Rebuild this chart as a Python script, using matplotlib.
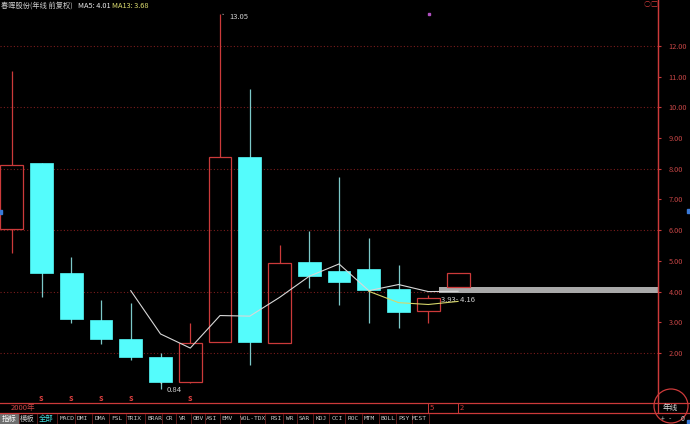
import numpy as np
import matplotlib
matplotlib.use("Agg")
import matplotlib.pyplot as plt
import matplotlib.transforms as mtransforms
from matplotlib.patches import Rectangle, Circle

plt.rcParams['font.family'] = ['Noto Sans CJK SC', 'DejaVu Sans']

# -------------------------------
# Data: yearly candles (前复权)
# -------------------------------
opens  = [6.04, 8.19, 4.61, 3.07, 2.46, 1.87, 1.05, 2.36, 8.38, 2.33, 4.96, 4.67, 4.73, 4.08, 3.37, 4.15]
closes = [8.12, 4.61, 3.11, 2.46, 1.87, 1.06, 2.33, 8.38, 2.36, 4.93, 4.51, 4.31, 4.05, 3.35, 3.78, 4.61]
highs  = [11.19, 8.19, 5.13, 3.73, 3.63, 2.00, 2.98, 13.05, 10.60, 5.52, 5.97, 7.73, 5.75, 4.87, 3.89, 4.61]
lows   = [5.26, 3.82, 2.98, 2.29, 1.77, 0.84, 1.02, 2.36, 1.61, 2.33, 4.12, 3.56, 2.98, 2.81, 2.98, 4.15]

ma5  = [np.nan, np.nan, np.nan, np.nan, 4.03, 2.62, 2.16, 3.22, 3.20, 3.81,
        4.50, 4.90, 4.03, 4.23, 4.00, 4.01]
ma13 = [np.nan] * 12 + [4.01, 3.64, 3.58, 3.68]

price_ticks = [2, 3, 4, 5, 6, 7, 8, 9, 10, 11, 12]
grid_levels = [2, 4, 6, 8, 10, 12]

band_low, band_high, band_start = 3.95, 4.15, 14.36   # gray price band
gift_marks = [1, 2, 3, 4, 6]                         # red markers under candles
year_marks = {14: "5", 15: "2"}

tabs = ["指标", "模板", "全部", "MACD", "DMI", "DMA", "FSL", "TRIX", "BRAR", "CR", "VR",
        "OBV", "ASI", "EMV", "VOL-TDX", "RSI", "WR", "SAR", "KDJ", "CCI", "ROC",
        "MTM", "BOLL", "PSY", "MCST"]
tab_x = [9.5, 27.5, 46.5, 67, 82.5, 100.5, 117, 134.5, 154.5, 169, 183, 198, 212,
         227.5, 252.5, 276.5, 289.5, 304, 321, 337, 353.5, 369.5, 388, 404, 419]

RED = '#cc3a3a'
CYAN = '#54fcfc'
GRID = '#7a1c1c'

# -------------------------------
# Figure
# -------------------------------
fig = plt.figure(figsize=(6.9, 4.24), dpi=100, facecolor='black')

ax = fig.add_axes([0, 21 / 424, 658 / 690, 403 / 424])
ax.set_facecolor('black')
ax.set_xlim(-0.395, 21.72)
ax.set_ylim(0.371, 13.498)

for v in grid_levels:
    ax.axhline(v, color=GRID, lw=0.8, ls=(0, (1, 2)), zorder=0)

w = 0.77
for i in range(len(opens)):
    o, c, h, l = opens[i], closes[i], highs[i], lows[i]
    if c >= o:
        ax.vlines(i, c, h, color=RED, lw=0.9, zorder=2)
        ax.vlines(i, l, o, color=RED, lw=0.9, zorder=2)
        ax.add_patch(Rectangle((i - w / 2, o), w, c - o, fill=False,
                               edgecolor=RED, lw=0.9, zorder=3))
    else:
        ax.vlines(i, l, h, color='#7cc8c8', lw=0.9, zorder=2)
        ax.add_patch(Rectangle((i - w / 2, c), w, o - c, facecolor=CYAN,
                               edgecolor=CYAN, lw=0.5, zorder=3))

x0, x1 = ax.get_xlim()
ax.axhspan(band_low, band_high, xmin=(band_start - x0) / (x1 - x0), xmax=1,
           color='#a9a9a9', lw=0, zorder=2.5)

idx = np.arange(len(opens))
ax.plot(idx, ma5, color='#d8d8d8', lw=0.8, zorder=4)
ax.plot(idx, ma13, color='#d6d66a', lw=0.8, zorder=4)

# max / min labels
ax.annotate("13.05", xy=(7, 13.05), xytext=(7.3, 12.95), color='#d0d0d0',
            fontsize=5.5, va='center', ha='left',
            arrowprops=dict(arrowstyle='-', color='#d0d0d0', lw=0.6))
ax.annotate("0.84", xy=(5, 1.03), xytext=(5.22, 0.8), color='#d0d0d0',
            fontsize=5.5, va='center', ha='left',
            arrowprops=dict(arrowstyle='-', color='#d0d0d0', lw=0.6))
ax.text(14.43, 3.72, "3.93- 4.16", color='#d0d0d0', fontsize=5.5, va='center', ha='left')

# right price axis
for s in ['top', 'left', 'bottom']:
    ax.spines[s].set_visible(False)
ax.spines['right'].set_color(RED)
ax.spines['right'].set_linewidth(0.9)
ax.yaxis.tick_right()
ax.set_yticks(price_ticks)
ax.set_yticklabels([f"{v:.2f}" for v in price_ticks])
ax.tick_params(axis='y', colors=RED, labelcolor='#c84646', labelsize=5.3,
               length=2.5, pad=5)
ax.set_xticks([])

# markers below candles
trans = mtransforms.blended_transform_factory(ax.transData, fig.transFigure)
for i in gift_marks:
    fig.text(i, 1 - 403 / 424, "s", transform=trans, color='#e04040', fontsize=6.5,
             fontweight='bold', ha='center', va='bottom')
for i, lab in year_marks.items():
    fig.text(i + 0.05, 1 - 408 / 424, lab, transform=trans, color=RED,
             fontsize=5.5, ha='left', va='center')
    fig.add_artist(plt.Line2D([i, i], [1 - 403 / 424, 1 - 413 / 424],
                              transform=trans, color=RED, lw=0.7))

# -------------------------------
# UI overlay (pixel coordinates)
# -------------------------------
ui = fig.add_axes([0, 0, 1, 1], zorder=5)
ui.set_xlim(0, 690)
ui.set_ylim(424, 0)
ui.axis('off')
ui.patch.set_alpha(0)

ui.text(1, 6, "春晖股份(年线 前复权)", color='#d0d0d0', fontsize=5.2, va='center')
ui.text(78, 6, "MA5: 4.01", color='#e8e8e8', fontsize=5.3, va='center')
ui.text(112, 6, "MA13: 3.68", color='#dede70', fontsize=5.3, va='center')
ui.text(647, 5, "○", color=RED, fontsize=5, ha='center', va='center')
ui.text(654, 5, "□", color=RED, fontsize=5, ha='center', va='center')
ui.plot([429], [14], marker='s', ms=1.5, color='#b050c0')
ui.add_patch(Rectangle((0, 210), 2, 4, color='#3a7ad8'))
ui.add_patch(Rectangle((687, 209), 3, 4, color='#3a7ad8'))

ui.plot([658, 658], [0, 413], color=RED, lw=0.9)
ui.plot([0, 690], [403, 403], color=RED, lw=0.9)
ui.plot([0, 690], [413, 413], color=RED, lw=0.9)
ui.text(11, 408, "2000年", color='#c84646', fontsize=5.5, va='center')

ui.add_patch(Circle((671, 406), 17, fill=False, edgecolor=RED, lw=0.9))
ui.text(670, 408, "年线", color='#e0e0e0', fontsize=5.5, ha='center', va='center')
ui.text(663, 419, "+", color='#d0d0d0', fontsize=5, ha='center', va='center')
ui.text(670, 419, "-", color='#d0d0d0', fontsize=5, ha='center', va='center')
ui.text(683, 419, "0", color='#d0d0d0', fontsize=5, ha='center', va='center')
ui.add_patch(Rectangle((687, 420), 3, 4, color='#3a7ad8'))

# toolbar tabs
ui.add_patch(Rectangle((0, 414), 18, 10, color='#6e6e6e'))
for k, (lab, xc) in enumerate(zip(tabs, tab_x)):
    col = '#40d8d8' if lab == "全部" else ('#ffffff' if k == 0 else '#c8c8c8')
    fam = ['Noto Sans CJK SC', 'DejaVu Sans'] if k < 3 else ['DejaVu Sans Mono']
    ui.text(xc, 419, lab, color=col, fontsize=4.5 if k >= 3 else 5.3,
            ha='center', va='center', family=fam)
    if k < len(tabs) - 1:
        xs = (xc + tab_x[k + 1]) / 2 if k >= 2 else tab_x[k] + 9
        ui.plot([xs, xs], [414, 424], color='#5a1a1a', lw=0.7)
ui.plot([429, 429], [414, 424], color='#5a1a1a', lw=0.7)

fig.savefig("out.png", dpi=100, facecolor='black')
